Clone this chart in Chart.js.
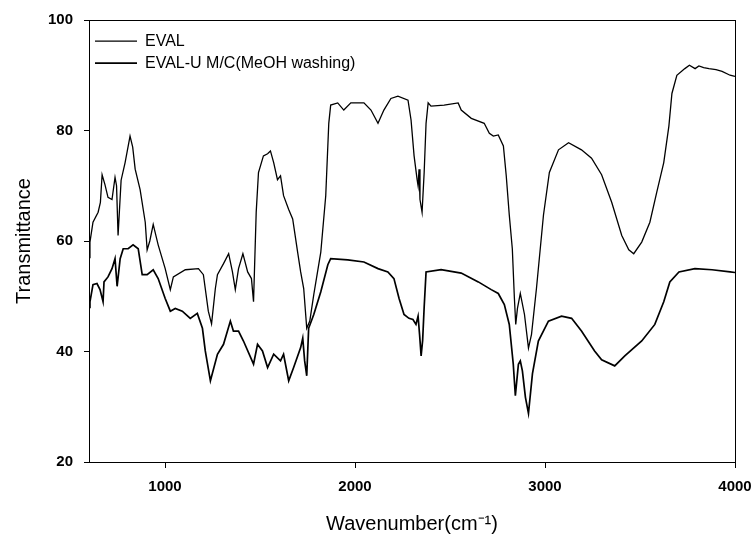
<!DOCTYPE html>
<html>
<head>
<meta charset="utf-8">
<script src="https://cdn.jsdelivr.net/npm/chart.js@4.4.1/dist/chart.umd.min.js"></script>
<style>
  html, body { margin: 0; padding: 0; background: #fff; }
  #wrap { width: 753px; height: 537px; }
</style>
</head>
<body>
<div id="wrap"><canvas id="chartIR"></canvas></div>
<script>
const seriesNames = ['EVAL', 'EVAL-U M/C(MeOH washing)'];

const wnEval = [600, 605, 621, 648, 660, 669, 684, 700, 721, 737, 745, 753, 769, 790, 816, 830, 843, 869, 896, 906,
  920, 938, 964, 1001, 1028, 1044, 1107, 1176, 1202, 1228, 1245, 1265, 1276, 1308, 1335, 1355, 1370, 1387, 1410, 1435,
  1455, 1466, 1480, 1492, 1518, 1540, 1555, 1572, 1592, 1608, 1624, 1651, 1672, 1698, 1714, 1730, 1746, 1762, 1783, 1820,
  1846, 1862, 1872, 1909, 1941, 1978, 2047, 2084, 2121, 2152, 2189, 2226, 2279, 2295, 2311, 2327, 2332, 2337, 2342, 2353,
  2364, 2374, 2385, 2400, 2469, 2543, 2559, 2612, 2680, 2707, 2728, 2754, 2781, 2796, 2812, 2828, 2839, 2846, 2855, 2870,
  2892, 2913, 2929, 2955, 2992, 3023, 3071, 3124, 3192, 3245, 3298, 3351, 3404, 3441, 3467, 3509, 3552, 3588, 3625, 3652,
  3668, 3694, 3736, 3760, 3790, 3810, 3835, 3863, 3900, 3932, 3974, 4000];
const tEval = [57, 59.8, 63.4, 65.2, 67, 72, 70.2, 67.9, 67.5, 71.5, 70, 61, 71, 74.2, 79, 77, 73, 69.3, 63.4, 58.4,
  60, 63, 59.3, 55, 51.2, 53.5, 54.8, 55, 53.9, 47.3, 45, 51.4, 53.9, 55.9, 57.7, 54.4, 51.2, 55, 57.7, 54.4,
  53.2, 49, 65.2, 72.4, 75.4, 75.8, 76.3, 74.2, 71.1, 71.8, 68.2, 65.7, 64, 58, 54.4, 51.4, 44.2, 45.5, 50.3, 58,
  68.2, 81.3, 84.6, 85, 83.7, 85, 85, 83.7, 81.3, 83.7, 85.8, 86.2, 85.5, 81.9, 75.4, 71.1, 70, 73, 67.5, 65.2,
  72.4, 81.3, 85, 84.4, 84.6, 85, 83.7, 82.2, 81.3, 79.5, 79, 79.2, 77.2, 71.8, 64.7, 58.6, 49.6, 44.9, 47.8, 50.5,
  46.7, 40.6, 43.1, 51.4, 64.7, 72.4, 76.5, 77.8, 76.5, 75, 72, 67, 61, 58.4, 57.7, 59.8, 63.4, 68.8, 74.2, 80.8,
  86.7, 90, 91.2, 91.8, 91.2, 91.7, 91.4, 91.2, 91, 90.7, 90, 89.8];

const wnEvalU = [600, 605, 621, 642, 658, 674, 679, 700, 721, 737, 748, 764, 780, 806, 832, 859, 880, 906, 938, 964,
  1001, 1028, 1054, 1091, 1133, 1170, 1197, 1212, 1239, 1276, 1308, 1344, 1360, 1387, 1413, 1466, 1487, 1513, 1540, 1572,
  1608, 1624, 1651, 1677, 1714, 1725, 1735, 1746, 1756, 1783, 1820, 1857, 1872, 1962, 2047, 2121, 2173, 2205, 2232, 2258,
  2284, 2305, 2321, 2332, 2340, 2348, 2356, 2364, 2374, 2453, 2559, 2649, 2717, 2754, 2786, 2812, 2833, 2844, 2860, 2870,
  2881, 2897, 2913, 2934, 2965, 3018, 3087, 3140, 3192, 3261, 3298, 3367, 3420, 3509, 3578, 3625, 3657, 3705, 3789, 3879,
  3974, 4000];
const tEvalU = [48, 49, 52.1, 52.3, 51.2, 49, 52.6, 53.5, 55, 56.8, 51.8, 56.8, 58.6, 58.6, 59.3, 58.6, 53.9, 53.9, 54.8, 53.2,
  49.6, 47.3, 47.8, 47.3, 46, 46.9, 44.2, 40.1, 34.7, 39.5, 41.3, 45.5, 43.7, 43.7, 41.9, 37.7, 41.3, 40.1, 37.1, 39.5,
  38.3, 39.5, 34.7, 37.1, 40.7, 42.4, 38.3, 35.6, 44.2, 46.7, 50.8, 55.7, 56.8, 56.6, 56.2, 55, 54.4, 53.2, 49.6, 46.7,
  46, 45.8, 44.9, 46.4, 43, 39.2, 42, 48, 54.4, 54.8, 54.2, 52.6, 51.2, 50.5, 48.5, 44.9, 37.7, 32, 37.7, 38.3,
  36.5, 31.7, 28.8, 36, 41.9, 45.5, 46.4, 46, 43.7, 40.1, 38.5, 37.4, 39.2, 41.9, 44.9, 49, 52.6, 54.4, 55, 54.8,
  54.4, 54.3];

const xTicks = [1000, 2000, 3000, 4000];
const yTicks = [20, 40, 60, 80, 100];

const toPoints = (xs, ys) => xs.map((x, i) => ({ x: x, y: ys[i] }));

// marco superior y derecho
const marco = {
  id: 'marco',
  beforeDatasetsDraw(chart) {
    const { ctx, chartArea: a } = chart;
    ctx.save();
    ctx.strokeStyle = '#000';
    ctx.lineWidth = 1;
    ctx.strokeRect(a.left + 0.5, a.top + 0.5, a.width, a.height);
    ctx.restore();
  }
};

const fuenteTicks = { family: '"Liberation Sans", Arial, sans-serif', size: 15, weight: 'bold' };
const fuenteTitulo = { family: '"Liberation Sans", Arial, sans-serif', size: 20 };

new Chart(document.getElementById('chartIR'), {
  type: 'scatter',
  data: {
    datasets: [
      { label: seriesNames[0], data: toPoints(wnEval, tEval), showLine: true, borderColor: '#000', backgroundColor: '#000', borderWidth: 1.3, pointRadius: 0, tension: 0 },
      { label: seriesNames[1], data: toPoints(wnEvalU, tEvalU), showLine: true, borderColor: '#000', backgroundColor: '#000', borderWidth: 1.7, pointRadius: 0, tension: 0 }
    ]
  },
  options: {
    responsive: true,
    maintainAspectRatio: false,
    animation: false,
    layout: { padding: { top: 15, right: 18, left: 0, bottom: 0 } },
    plugins: {
      tooltip: { enabled: false },
      legend: {
        position: 'chartArea',
        align: 'start',
        title: { display: true, text: ' ', font: { size: 1 }, padding: { top: 0, bottom: 26 } },
        labels: {
          color: '#000',
          font: { family: '"Liberation Sans", Arial, sans-serif', size: 16 },
          usePointStyle: true,
          pointStyle: 'line',
          pointStyleWidth: 42,
          padding: 6
        }
      }
    },
    scales: {
      x: {
        type: 'linear',
        min: 600,
        max: 4000,
        afterBuildTicks: s => { s.ticks = xTicks.map(v => ({ value: v })); },
        afterFit: s => { s.height = 75; s.paddingLeft = 0; s.paddingRight = 0; },
        ticks: { color: '#000', font: fuenteTicks, padding: 10, maxRotation: 0, callback: v => String(v) },
        grid: { drawOnChartArea: false, drawTicks: true, tickLength: 6, color: '#000' },
        border: { display: true, color: '#000', width: 1 },
        title: { display: true, text: 'Wavenumber(cm⁻¹)', color: '#000', font: fuenteTitulo, padding: { top: 0, bottom: 1 } }
      },
      y: {
        min: 20,
        max: 100,
        afterBuildTicks: s => { s.ticks = yTicks.map(v => ({ value: v })); },
        afterFit: s => { s.width = 89; },
        ticks: { color: '#000', font: fuenteTicks, padding: 11, callback: v => String(v) },
        grid: { drawOnChartArea: false, drawTicks: true, tickLength: 5, color: '#000' },
        border: { display: true, color: '#000', width: 1 },
        title: { display: true, text: 'Transmittance', color: '#000', font: fuenteTitulo, padding: { top: 12, bottom: 0 } }
      }
    }
  },
  plugins: [marco]
});
</script>
</body>
</html>
